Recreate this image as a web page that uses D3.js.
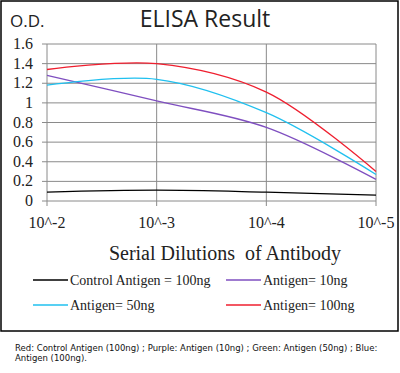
<!DOCTYPE html>
<html><head><meta charset="utf-8">
<script src="https://cdn.jsdelivr.net/npm/d3@7"></script>
<style>html,body{margin:0;padding:0;background:#fff;}svg{display:block;}</style>
</head><body>
<svg id="c" width="400" height="373"></svg>
<script>
const dilutions = [1e-2, 1e-3, 1e-4, 1e-5];
const xTickLabels = ["10^-2", "10^-3", "10^-4", "10^-5"];
const yTicks = [0, 0.2, 0.4, 0.6, 0.8, 1, 1.2, 1.4, 1.6];
const seriesNames = ["Control Antigen = 100ng", "Antigen= 10ng", "Antigen= 50ng", "Antigen= 100ng"];
const seriesColors = ["#000000", "#7f4fc0", "#20c0ef", "#ef1f2f"];
const controlValues = [0.09, 0.11, 0.09, 0.06];
const antigen10Values = [1.28, 1.02, 0.75, 0.22];
const antigen50Values = [1.18, 1.24, 0.90, 0.27];
const antigen100Values = [1.34, 1.40, 1.11, 0.30];
const allValues = [controlValues, antigen10Values, antigen50Values, antigen100Values];

const svg = d3.select("#c");
svg.append("rect").attr("x", 1).attr("y", 1).attr("width", 397).attr("height", 330)
  .attr("fill", "none").attr("stroke", "#000").attr("stroke-width", 1.5);

const x = d3.scaleLog().domain([1e-2, 1e-5]).range([47, 376]);
const y = d3.scaleLinear().domain([0, 1.6]).range([201, 44]);

const serif = "'Liberation Serif','Times New Roman',serif";
const sans = "'Open Sans', Lato, sans-serif";
const grid = svg.append("g");
yTicks.forEach(t => {
  grid.append("line").attr("x1", 42).attr("x2", x(1e-5)).attr("y1", y(t)).attr("y2", y(t))
    .attr("stroke", "#8a8a8a").attr("stroke-width", 1);
});
dilutions.forEach(d => {
  grid.append("line").attr("x1", x(d)).attr("x2", x(d)).attr("y1", y(1.6)).attr("y2", y(0) + 5)
    .attr("stroke", "#8a8a8a").attr("stroke-width", 1);
});

svg.append("g").selectAll("text").data(yTicks).join("text")
  .attr("x", 33).attr("y", d => y(d) + 5).attr("text-anchor", "end")
  .attr("font-family", serif).attr("font-size", 16).attr("fill", "#222")
  .text(d => d3.format("")(+d.toFixed(1)));

svg.append("g").selectAll("text").data(dilutions).join("text")
  .attr("x", d => x(d)).attr("y", 228).attr("text-anchor", "middle")
  .attr("font-family", serif).attr("font-size", 16).attr("fill", "#222")
  .text((d, i) => xTickLabels[i]);

const line = d3.line().x((d, i) => x(dilutions[i])).y(d => y(d)).curve(d3.curveCatmullRom.alpha(0.5));
allValues.forEach((vals, i) => {
  svg.append("path").attr("d", line(vals)).attr("fill", "none")
    .attr("stroke", seriesColors[i]).attr("stroke-width", 1.3);
});

svg.append("text").attr("x", 205).attr("y", 27).attr("text-anchor", "middle")
  .attr("font-family", sans).attr("font-size", 23).attr("fill", "#222")
  .text("ELISA Result");
svg.append("text").attr("x", 10).attr("y", 27)
  .attr("font-family", sans).attr("font-size", 17).attr("fill", "#222")
  .text("O.D.");

svg.append("text").attr("x", 225).attr("y", 260).attr("text-anchor", "middle")
  .attr("font-family", serif).attr("font-size", 20).attr("fill", "#222")
  .attr("xml:space", "preserve").style("white-space", "pre")
  .text("Serial Dilutions  of Antibody");

const legendPos = [[33, 280], [226, 280], [33, 305], [226, 305]];
seriesNames.forEach((n, i) => {
  const [lx, ly] = legendPos[i];
  svg.append("line").attr("x1", lx).attr("x2", lx + 35).attr("y1", ly).attr("y2", ly)
    .attr("stroke", seriesColors[i]).attr("stroke-width", 1.3);
  svg.append("text").attr("x", lx + 37).attr("y", ly + 5)
    .attr("font-family", serif).attr("font-size", 14).attr("fill", "#222").text(n);
});

const cap = svg.append("text").attr("font-family", "'DejaVu Sans', sans-serif").attr("font-size", 8.5).attr("fill", "#111");
cap.append("tspan").attr("x", 15).attr("y", 351).text("Red: Control Antigen (100ng) ; Purple: Antigen (10ng) ; Green: Antigen (50ng) ; Blue:");
cap.append("tspan").attr("x", 15).attr("y", 361).text("Antigen (100ng).");
</script>
</body></html>
